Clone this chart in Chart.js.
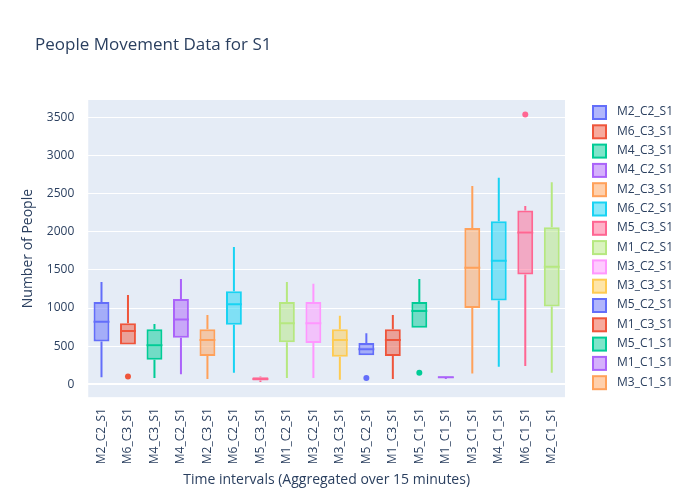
<!DOCTYPE html>
<html>
<head>
<meta charset="utf-8">
<script src="https://cdn.jsdelivr.net/npm/chart.js@4"></script>
<style>
  body { margin: 0; background: #fff; }
  #wrap { width: 700px; height: 500px; }
</style>
</head>
<body>
<div id="wrap"><canvas id="boxChart"></canvas></div>
<script>
// Box data
const categories = ['M2_C2_S1', 'M6_C3_S1', 'M4_C3_S1', 'M4_C2_S1', 'M2_C3_S1', 'M6_C2_S1',
    'M5_C3_S1', 'M1_C2_S1', 'M3_C2_S1', 'M3_C3_S1', 'M5_C2_S1', 'M1_C3_S1',
    'M5_C1_S1', 'M1_C1_S1', 'M3_C1_S1', 'M4_C1_S1', 'M6_C1_S1', 'M2_C1_S1'];
const mins    = [90, 520, 80, 130, 70, 150, 30, 80, 80, 60, 380, 70, 740, 70, 140, 230, 240, 150];
const q1s     = [560, 520, 320, 610, 370, 780, 50, 550, 540, 360, 380, 370, 740, 80, 1000, 1100, 1440, 1020];
const medians = [820, 700, 510, 850, 580, 1050, 70, 800, 800, 580, 460, 580, 960, 90, 1530, 1620, 1990, 1540];
const q3s     = [1080, 800, 720, 1120, 720, 1220, 90, 1080, 1080, 720, 540, 720, 1080, 100, 2050, 2140, 2280, 2060];
const maxs    = [1340, 1170, 790, 1380, 910, 1800, 100, 1340, 1320, 900, 670, 910, 1380, 100, 2600, 2710, 2340, 2650];
const outliers = [[], [100], [], [], [], [], [], [], [], [], [80], [], [150], [], [], [], [3540], []];
const yTicks = [0, 500, 1000, 1500, 2000, 2500, 3000, 3500];

const palette = ['#636efa', '#EF553B', '#00cc96', '#ab63fa', '#FFA15A', '#19d3f3',
    '#FF6692', '#B6E880', '#FF97FF', '#FECB52'];

function withAlpha(hex, a) {
    const n = parseInt(hex.slice(1), 16);
    return 'rgba(' + (n >> 16) + ',' + ((n >> 8) & 255) + ',' + (n & 255) + ',' + a + ')';
}

const datasets = categories.map(function(name, i) {
    const color = palette[i % palette.length];
    return {
        label: name,
        data: categories.map(function(c, j) { return j === i ? [q1s[i], q3s[i]] : null; }),
        backgroundColor: withAlpha(color, 0.5),
        borderColor: color,
        borderWidth: 2,
        borderSkipped: false,
        grouped: false,
        barPercentage: 0.6,
        categoryPercentage: 1
    };
});

// Plot area background
const plotBg = {
    id: 'plotBg',
    beforeDraw(chart) {
        const a = chart.chartArea, ctx = chart.ctx;
        ctx.save();
        ctx.fillStyle = '#E5ECF6';
        ctx.fillRect(a.left, a.top, a.right - a.left, a.bottom - a.top);
        ctx.restore();
    }
};

// Whiskers, medians and outliers, positioned through the y scale
const boxParts = {
    id: 'boxParts',
    afterDatasetsDraw(chart) {
        const ctx = chart.ctx, y = chart.scales.y;
        chart.data.datasets.forEach(function(ds, i) {
            const bar = chart.getDatasetMeta(i).data[i];
            if (!bar) return;
            const x = bar.x, half = bar.width / 2;
            ctx.save();
            ctx.strokeStyle = ds.borderColor;
            ctx.lineWidth = 2;
            ctx.beginPath();
            ctx.moveTo(x, y.getPixelForValue(mins[i]));
            ctx.lineTo(x, y.getPixelForValue(q1s[i]));
            ctx.moveTo(x, y.getPixelForValue(q3s[i]));
            ctx.lineTo(x, y.getPixelForValue(maxs[i]));
            const my = y.getPixelForValue(medians[i]);
            ctx.moveTo(x - half, my);
            ctx.lineTo(x + half, my);
            ctx.stroke();
            ctx.fillStyle = ds.borderColor;
            outliers[i].forEach(function(v) {
                ctx.beginPath();
                ctx.arc(x, y.getPixelForValue(v), 3, 0, Math.PI * 2);
                ctx.fill();
            });
            ctx.restore();
        });
    }
};

// Title and a plotly-style legend (first 15 entries fit)
const titleAndLegend = {
    id: 'titleAndLegend',
    afterDraw(chart) {
        const ctx = chart.ctx;
        ctx.save();
        ctx.fillStyle = '#2a3f5f';
        ctx.font = '17px "Open Sans"';
        ctx.textBaseline = 'middle';
        ctx.fillText('People Movement Data for S1', 35, 45);
        ctx.font = '12px "Open Sans"';
        chart.data.datasets.slice(0, 15).forEach(function(ds, i) {
            const ly = 112 + i * 19.3;
            ctx.fillStyle = ds.backgroundColor;
            ctx.fillRect(593, ly - 6, 13, 13);
            ctx.strokeStyle = ds.borderColor;
            ctx.lineWidth = 2;
            ctx.strokeRect(593, ly - 6, 13, 13);
            ctx.fillStyle = '#2a3f5f';
            ctx.fillText(ds.label, 617, ly);
        });
        ctx.restore();
    }
};

new Chart(document.getElementById('boxChart'), {
    type: 'bar',
    data: { labels: categories, datasets: datasets },
    plugins: [plotBg, boxParts, titleAndLegend],
    options: {
        responsive: true,
        maintainAspectRatio: false,
        animation: false,
        layout: { padding: { top: 100, right: 135, left: 16, bottom: 8 } },
        scales: {
            x: {
                grid: { display: false },
                border: { display: false },
                ticks: { color: '#2a3f5f', font: { family: 'Open Sans', size: 12 }, maxRotation: 90, minRotation: 90, autoSkip: false },
                title: { display: true, text: 'Time intervals (Aggregated over 15 minutes)', color: '#2a3f5f', font: { family: 'Open Sans', size: 14 } }
            },
            y: {
                min: -170,
                max: 3730,
                afterBuildTicks: function(axis) { axis.ticks = yTicks.map(function(v) { return { value: v }; }); },
                grid: { color: '#ffffff', lineWidth: function(c) { return c.tick.value === 0 ? 2 : 1; } },
                border: { display: false },
                ticks: { color: '#2a3f5f', font: { family: 'Open Sans', size: 12 }, padding: 6,
                    callback: function(value) { return String(value); } },
                title: { display: true, text: 'Number of People', color: '#2a3f5f', font: { family: 'Open Sans', size: 14 } }
            }
        },
        plugins: {
            title: { display: false },
            legend: { display: false },
            tooltip: { enabled: false }
        }
    }
});
</script>
</body>
</html>
